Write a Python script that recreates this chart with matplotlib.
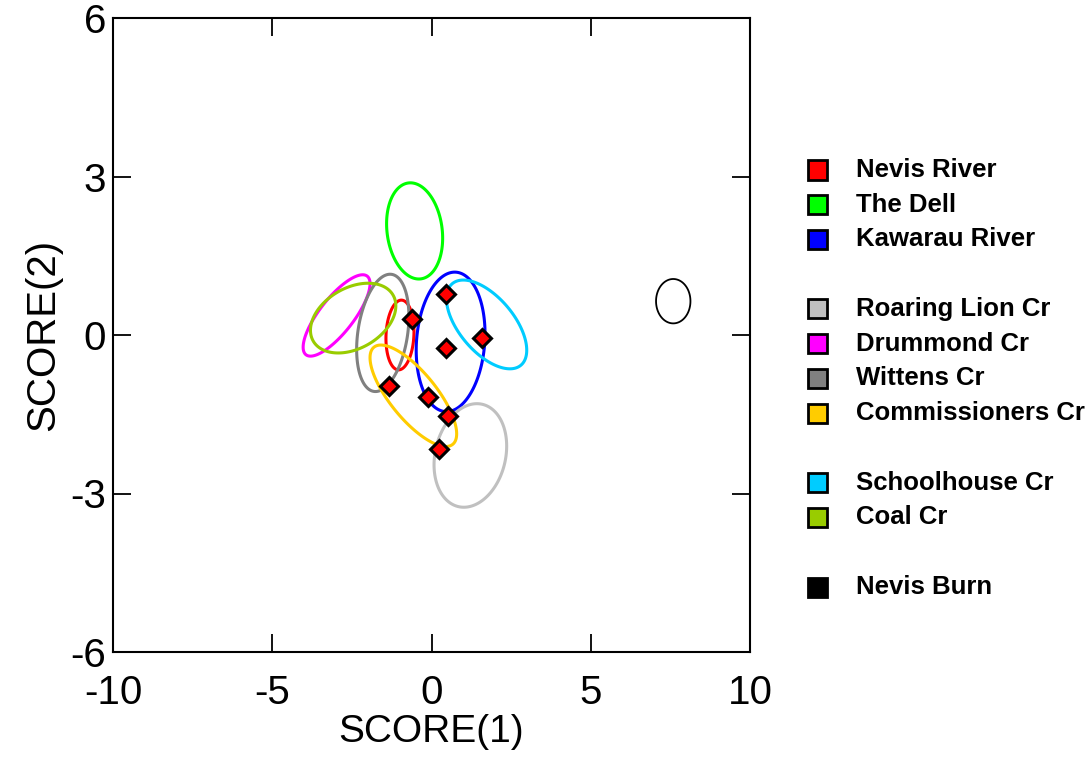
import matplotlib
matplotlib.use("Agg")
import matplotlib.pyplot as plt
import numpy as np
from matplotlib.patches import Rectangle

plt.rcParams["font.family"] = ["Liberation Sans", "DejaVu Sans"]
plt.rcParams["axes.unicode_minus"] = False

# groups, ellipse centres, spreads and correlation (data units)
sites = ["Nevis River", "The Dell", "Kawarau River",
         "Roaring Lion Cr", "Drummond Cr", "Wittens Cr", "Commissioners Cr",
         "Schoolhouse Cr", "Coal Cr", "Nevis Burn"]
legend_group = [0, 0, 0, 1, 1, 1, 1, 2, 2, 3]
colors = ["#FF0000", "#00FF00", "#0000FF",
          "#C0C0C0", "#FF00FF", "#808080", "#FFCC00",
          "#00CCFF", "#99CC00", "#000000"]
center_x = [-0.99, -0.53, 0.60, 1.22, -2.98, -1.53, -0.57, 1.73, -2.46, 7.59]
center_y = [0.00, 1.97, -0.13, -2.28, 0.37, 0.04, -1.15, 0.20, 0.32, 0.64]
spread_x = [0.44, 0.88, 1.08, 1.14, 1.05, 0.82, 1.36, 1.26, 1.34, 0.54]
spread_y = [0.66, 0.91, 1.32, 0.98, 0.77, 1.11, 0.96, 0.84, 0.66, 0.42]
corr = [0.10, -0.15, 0.12, 0.18, 0.78, 0.28, -0.75, -0.58, 0.35, 0.0]

# red diamonds
pt_x = [0.45, -0.62, 0.46, 1.58, -1.32, -0.10, 0.53, 0.25]
pt_y = [0.78, 0.30, -0.25, -0.05, -0.97, -1.18, -1.53, -2.16]

fig = plt.figure(figsize=(10.92, 7.59), dpi=100)
ax = fig.add_axes([113 / 1092, 1 - 652 / 759, 637 / 1092, 634 / 759])

t = np.linspace(0, 2 * np.pi, 300)
for i, name in enumerate(sites):
    ex = center_x[i] + spread_x[i] * np.cos(t)
    ey = center_y[i] + spread_y[i] * (corr[i] * np.cos(t)
                                      + np.sqrt(1 - corr[i] ** 2) * np.sin(t))
    lw = 1.3 if colors[i] == "#000000" else 2.2
    ax.fill(ex, ey, facecolor="none", edgecolor=colors[i], lw=lw, zorder=2)

ax.plot(pt_x, pt_y, linestyle="none", marker="D", markersize=9,
        markerfacecolor="#FF0000", markeredgecolor="black",
        markeredgewidth=2.2, zorder=3)

ax.set_xlim(-10, 10)
ax.set_ylim(-6, 6)
ax.set_xticks([-10, -5, 0, 5, 10])
ax.set_yticks([-6, -3, 0, 3, 6])
ax.tick_params(direction="in", length=13, width=1.3, labelsize=29,
               top=True, right=True)
ax.tick_params(axis="x", pad=16)
ax.tick_params(axis="y", pad=5)
for s in ax.spines.values():
    s.set_linewidth(1.5)
ax.set_xlabel("SCORE(1)", fontsize=28, labelpad=1)
ax.set_ylabel("SCORE(2)", fontsize=29, labelpad=6)

# legend on the right
row_h = 34.75
for i, name in enumerate(sites):
    slot = i + legend_group[i]
    yc = 170 + row_h * slot
    fig.patches.append(Rectangle((808 / 1092, 1 - (yc + 9.5) / 759),
                                 19 / 1092, 19 / 759,
                                 transform=fig.transFigure,
                                 facecolor=colors[i], edgecolor="black",
                                 linewidth=2))
    fig.text(856 / 1092, 1 - yc / 759, name, fontsize=18.5, fontweight="bold",
             va="center", ha="left")

fig.savefig("out.png", dpi=100)
